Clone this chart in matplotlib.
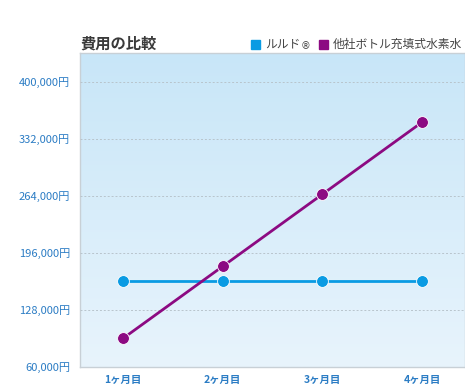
import numpy as np
import matplotlib
matplotlib.use("Agg")
import matplotlib.pyplot as plt
from matplotlib.colors import LinearSegmentedColormap

plt.rcParams['font.family'] = ['Noto Sans CJK JP', 'DejaVu Sans']

months = ["1ヶ月目", "2ヶ月目", "3ヶ月目", "4ヶ月目"]
lourdes = [162000, 162000, 162000, 162000]
other_bottle = [94000, 180000, 266000, 352000]
y_ticks = [60000, 128000, 196000, 264000, 332000, 400000]

blue = "#0a9be3"
purple = "#8c0a82"
tick_col = "#2b7cc4"

fig = plt.figure(figsize=(4.65, 3.88), dpi=100)
ax = fig.add_axes([80 / 465, 21 / 388, 385 / 465, 314 / 388])

# background gradient inside the plot area
cmap = LinearSegmentedColormap.from_list("bg", ["#e8f4fc", "#c8e6f8"])
grad = np.linspace(0, 1, 256).reshape(-1, 1)
ax.imshow(grad, aspect="auto", cmap=cmap, origin="lower",
          extent=[0, 1, 0, 1], transform=ax.transAxes, zorder=0)

x = np.arange(1, len(months) + 1)
ax.plot(x, lourdes, color=blue, lw=2, marker="o", ms=8.5,
        mec="white", mew=0.6, zorder=3)
ax.plot(x, other_bottle, color=purple, lw=2, marker="o", ms=8.5,
        mec="white", mew=0.6, zorder=4)

ax.set_xlim(0.57, 4.43)
ax.set_ylim(60000, 434500)
ax.set_xticks(x)
ax.set_xticklabels(months)
ax.set_yticks(y_ticks)
ax.set_yticklabels([f"{v:,}円" for v in y_ticks])
ax.tick_params(axis="y", length=0, labelsize=8, colors=tick_col, pad=7)
ax.tick_params(axis="x", length=0, labelsize=7.5, colors=tick_col, pad=6)
for t in ax.get_xticklabels():
    t.set_fontweight("bold")

ax.yaxis.grid(True, ls=(0, (2, 2)), color="#b8c4cc", lw=0.7)
ax.set_axisbelow(False)
for s in ax.spines.values():
    s.set_color("#c8d0d6")
    s.set_linewidth(1)

fig.text(80 / 465, 1 - 44 / 388, "費用の比較", fontsize=11, fontweight="bold",
         color="#3a3a3a", va="center", ha="left")

# legend at the top right
fig.patches.append(plt.Rectangle((251 / 465, 1 - 49 / 388), 9 / 465, 9 / 388,
                                 transform=fig.transFigure, color=blue))
fig.text(265 / 465, 1 - 44 / 388, "ルルド", fontsize=8.5, color="#444444",
         va="center", ha="left")
fig.text(301 / 465, 1 - 46 / 388, "®", fontsize=7, color="#444444",
         va="center", ha="left", family=["DejaVu Sans"])
fig.patches.append(plt.Rectangle((319 / 465, 1 - 49 / 388), 9 / 465, 9 / 388,
                                 transform=fig.transFigure, color=purple))
fig.text(333 / 465, 1 - 44 / 388, "他社ボトル充填式水素水", fontsize=8.5,
         color="#444444", va="center", ha="left")

fig.savefig("out.png", dpi=100, facecolor="white")
